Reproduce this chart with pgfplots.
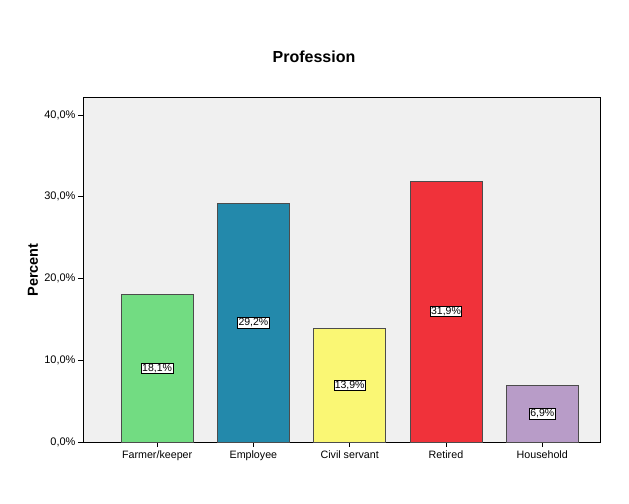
\documentclass[border=0pt]{standalone}
\usepackage{fontspec}
\setmainfont{Liberation Sans}
\usepackage{pgfplots}
\pgfplotsset{compat=1.18}

\definecolor{plotbg}{HTML}{F0F0F0}
\definecolor{cgreen}{HTML}{72DC82}
\definecolor{cblue}{HTML}{2389AB}
\definecolor{cyellow}{HTML}{FAF774}
\definecolor{cred}{HTML}{F0323A}
\definecolor{cpurple}{HTML}{B89CC8}

\begin{document}
\begin{tikzpicture}[x=1bp,y=1bp]
\useasboundingbox[fill=white] (0,0) rectangle (629,504);
\node[font=\fontsize{16bp}{19bp}\selectfont\bfseries] at (314,447) {Profession};
\node[font=\fontsize{14.5bp}{17bp}\selectfont\bfseries, rotate=90] at (33,234) {Percent};
\begin{axis}[
    at={(83bp,62bp)}, anchor=south west,
    scale only axis,
    width=517bp, height=345bp,
    xmin=-0.77, xmax=4.60,
    ymin=0, ymax=42.2,
    axis background/.style={fill=plotbg},
    axis line style={black, line width=0.8pt},
    ytick={0,10,20,30,40},
    yticklabels={{0,0\%},{10,0\%},{20,0\%},{30,0\%},{40,0\%}},
    xtick={0,1,2,3,4},
    xticklabels={Farmer/keeper,Employee,Civil servant,Retired,Household},
    tick align=outside,
    tick pos=left,
    major tick length=5bp,
    tick style={black, line width=0.6pt},
    yticklabel style={font=\fontsize{11bp}{13bp}\selectfont, xshift=1bp},
    xticklabel style={font=\fontsize{10.7bp}{13bp}\selectfont},
    ybar, bar width=0.75, bar shift=0pt,
    clip=false,
]
\addplot[fill=cgreen, draw=black!70, line width=0.6pt] coordinates {(0,18.1)};
\addplot[fill=cblue, draw=black!70, line width=0.6pt] coordinates {(1,29.2)};
\addplot[fill=cyellow, draw=black!70, line width=0.6pt] coordinates {(2,13.9)};
\addplot[fill=cred, draw=black!70, line width=0.6pt] coordinates {(3,31.9)};
\addplot[fill=cpurple, draw=black!70, line width=0.6pt] coordinates {(4,6.9)};
\addplot[draw=none, mark=none, nodes near coords, point meta=explicit symbolic,
    every node near coord/.style={anchor=center, fill=white, draw=black, line width=0.5pt,
        inner sep=0.8bp, font=\fontsize{10.5bp}{11bp}\selectfont}]
    coordinates {(0,9.05)[18,1\%] (1,14.6)[29,2\%] (2,6.95)[13,9\%] (3,15.95)[31,9\%] (4,3.45)[6,9\%]};
\end{axis}
\end{tikzpicture}
\end{document}
